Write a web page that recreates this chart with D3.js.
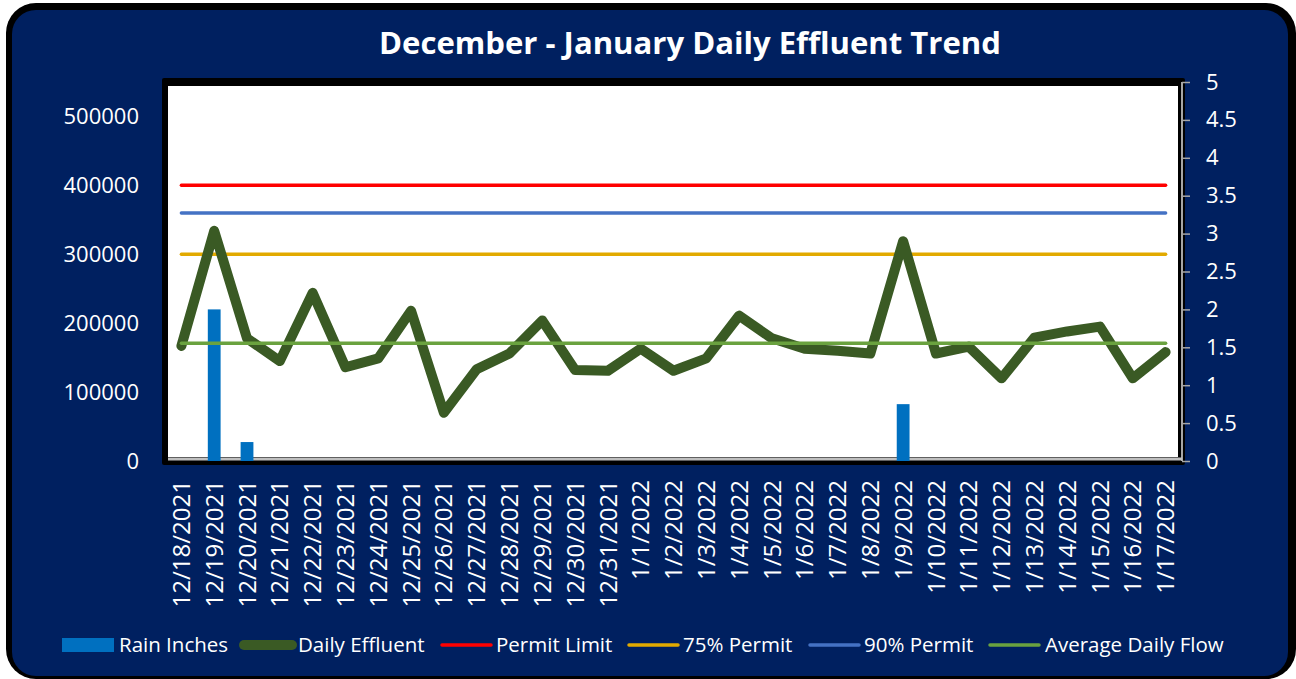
<!DOCTYPE html>
<html>
<head>
<meta charset="utf-8">
<script src="https://cdn.jsdelivr.net/npm/d3@7"></script>
<style>
  body { margin: 0; background: #fff; }
  text { font-family: "Open Sans", sans-serif; fill: #fff; }
</style>
</head>
<body>
<div id="chart"></div>
<script>
// dates on the x axis
var dates = ["12/18/2021", "12/19/2021", "12/20/2021", "12/21/2021", "12/22/2021", "12/23/2021",
  "12/24/2021", "12/25/2021", "12/26/2021", "12/27/2021", "12/28/2021", "12/29/2021",
  "12/30/2021", "12/31/2021", "1/1/2022", "1/2/2022", "1/3/2022", "1/4/2022", "1/5/2022",
  "1/6/2022", "1/7/2022", "1/8/2022", "1/9/2022", "1/10/2022", "1/11/2022", "1/12/2022",
  "1/13/2022", "1/14/2022", "1/15/2022", "1/16/2022", "1/17/2022"];

// gallons per day
var effluent = [167000, 334000, 178000, 145000, 244000, 136000, 149000, 218000, 70000, 133000,
  156000, 204000, 132000, 131000, 163000, 131000, 149000, 211000, 178000, 163000, 160000,
  156000, 319000, 156000, 166000, 120000, 179000, 188000, 195000, 120000, 158000];

// inches, right axis
var rain = [0, 2, 0.25, 0, 0, 0, 0, 0, 0, 0, 0, 0, 0, 0, 0, 0, 0, 0, 0, 0, 0, 0, 0.75, 0,
  0, 0, 0, 0, 0, 0, 0];

var permitLimit = 400000,
    permit90 = 360000,
    permit75 = 300000,
    avgFlow = 171000;

var leftTicks = [0, 100000, 200000, 300000, 400000, 500000];
var rightTicks = [0, 0.5, 1, 1.5, 2, 2.5, 3, 3.5, 4, 4.5, 5];

var W = 1296, H = 679;
var navy = "#002060";

var svg = d3.select("#chart").append("svg")
    .attr("width", W)
    .attr("height", H);

// outer frame
svg.append("rect")
    .attr("x", 6).attr("y", 3)
    .attr("width", 1290).attr("height", 676)
    .attr("rx", 30)
    .attr("fill", "#000");
svg.append("rect")
    .attr("x", 12).attr("y", 10)
    .attr("width", 1276).attr("height", 666)
    .attr("rx", 24)
    .attr("fill", navy);

var title = svg.append("text")
    .attr("x", 690).attr("y", 54)
    .attr("text-anchor", "middle")
    .style("font-weight", "bold")
    .style("font-size", "28px")
    .text("December - January Daily Effluent Trend");
var tl = title.node().getComputedTextLength();
title.style("font-size", (28 * 622 / tl) + "px");

// scales
var x = d3.scaleBand().domain(dates).range([165, 1182]);
var y = d3.scaleLinear().domain([0, 550000]).range([461, 82]);
var y2 = d3.scaleLinear().domain([0, 5]).range([461, 82]);
var cx = function(d) { return x(d) + x.bandwidth() / 2; };

// plot area
svg.append("rect")
    .attr("x", 162).attr("y", 78)
    .attr("width", 1023).attr("height", 387)
    .attr("rx", 2)
    .attr("fill", "#000");
svg.append("rect")
    .attr("x", 168).attr("y", 86)
    .attr("width", 1010).attr("height", 371)
    .attr("fill", "#fff");

// left axis
var yAxis = d3.axisLeft(y).tickValues(leftTicks).tickSize(0).tickPadding(0).tickFormat(d3.format("d"));
var gy = svg.append("g").attr("transform", "translate(139,0)").call(yAxis);
gy.select(".domain").remove();
gy.selectAll("text").style("font-size", "22px").style("fill", "#fff").attr("font-family", null);

// right axis
var y2Axis = d3.axisRight(y2).tickValues(rightTicks).tickSize(8).tickPadding(16)
    .tickFormat(function(d) { return String(d); });
var gy2 = svg.append("g").attr("transform", "translate(1182,0)").call(y2Axis);
gy2.select(".domain").attr("stroke", "#a6a6a6").attr("stroke-width", 2).attr("d", "M0,82V461");
gy2.selectAll("line").attr("stroke", "#a6a6a6").attr("stroke-width", 1.5);
gy2.selectAll("text").style("font-size", "22px").style("fill", "#fff").attr("font-family", null);

// x axis line
svg.append("line")
    .attr("x1", 168).attr("x2", 1182)
    .attr("y1", 459).attr("y2", 459)
    .attr("stroke", "#bfbfbf").attr("stroke-width", 3);

// x labels
svg.append("g").selectAll("text")
    .data(dates)
    .enter().append("text")
    .attr("transform", function(d) { return "translate(" + cx(d) + ",480) rotate(-90)"; })
    .attr("text-anchor", "end")
    .attr("dy", "0.36em")
    .style("font-size", "24px")
    .text(function(d) { return d; });

// rain bars
var bw = x.bandwidth() * 0.39;
svg.append("g").selectAll("rect")
    .data(dates.map(function(d, i) { return { date: d, v: rain[i] }; }).filter(function(d) { return d.v > 0; }))
    .enter().append("rect")
    .attr("x", function(d) { return cx(d.date) - bw / 2; })
    .attr("y", function(d) { return y2(d.v); })
    .attr("width", bw)
    .attr("height", function(d) { return y2(0) - y2(d.v); })
    .attr("fill", "#0070c0");

// reference lines
var x0 = cx(dates[0]), x1 = cx(dates[dates.length - 1]);
var refs = [
  { v: permitLimit, color: "#ff0000" },
  { v: permit90, color: "#4472c4" },
  { v: permit75, color: "#e2aa00" }
];
svg.append("g").selectAll("line")
    .data(refs)
    .enter().append("line")
    .attr("x1", x0).attr("x2", x1)
    .attr("y1", function(d) { return y(d.v); })
    .attr("y2", function(d) { return y(d.v); })
    .attr("stroke", function(d) { return d.color; })
    .attr("stroke-width", 3.5)
    .attr("stroke-linecap", "round");

// daily effluent
var line = d3.line()
    .x(function(d, i) { return cx(dates[i]); })
    .y(function(d) { return y(d); });
svg.append("path")
    .datum(effluent)
    .attr("d", line)
    .attr("fill", "none")
    .attr("stroke", "#3a5a24")
    .attr("stroke-width", 10)
    .attr("stroke-linejoin", "round")
    .attr("stroke-linecap", "round");

// average line drawn over effluent
svg.append("line")
    .attr("x1", x0).attr("x2", x1)
    .attr("y1", y(avgFlow)).attr("y2", y(avgFlow))
    .attr("stroke", "#6aa23f")
    .attr("stroke-width", 3.5)
    .attr("stroke-linecap", "round");

// legend
var legend = [
  { name: "Rain Inches", type: "bar", color: "#0070c0", x: 62, tx: 119 },
  { name: "Daily Effluent", type: "thick", color: "#3a5a24", x: 239, tx: 298 },
  { name: "Permit Limit", type: "line", color: "#ff0000", x: 440, tx: 496 },
  { name: "75% Permit", type: "line", color: "#e2aa00", x: 627, tx: 683 },
  { name: "90% Permit", type: "line", color: "#4472c4", x: 808, tx: 864 },
  { name: "Average Daily Flow", type: "line", color: "#6aa23f", x: 988, tx: 1045 }
];
var ly = 645;
var lg = svg.append("g").selectAll("g")
    .data(legend)
    .enter().append("g");
lg.filter(function(d) { return d.type === "bar"; })
    .append("rect")
    .attr("x", function(d) { return d.x; })
    .attr("y", ly - 7)
    .attr("width", 52).attr("height", 14)
    .attr("fill", function(d) { return d.color; });
lg.filter(function(d) { return d.type !== "bar"; })
    .append("line")
    .attr("x1", function(d) { return d.type === "thick" ? d.x + 5 : d.x + 2; })
    .attr("x2", function(d) { return d.type === "thick" ? d.x + 53 : d.x + 51; })
    .attr("y1", ly).attr("y2", ly)
    .attr("stroke", function(d) { return d.color; })
    .attr("stroke-width", function(d) { return d.type === "thick" ? 10 : 3.5; })
    .attr("stroke-linecap", "round");
lg.append("text")
    .attr("x", function(d) { return d.tx; })
    .attr("y", ly)
    .attr("dy", "0.35em")
    .style("font-size", "20.5px")
    .text(function(d) { return d.name; });
</script>
</body>
</html>
